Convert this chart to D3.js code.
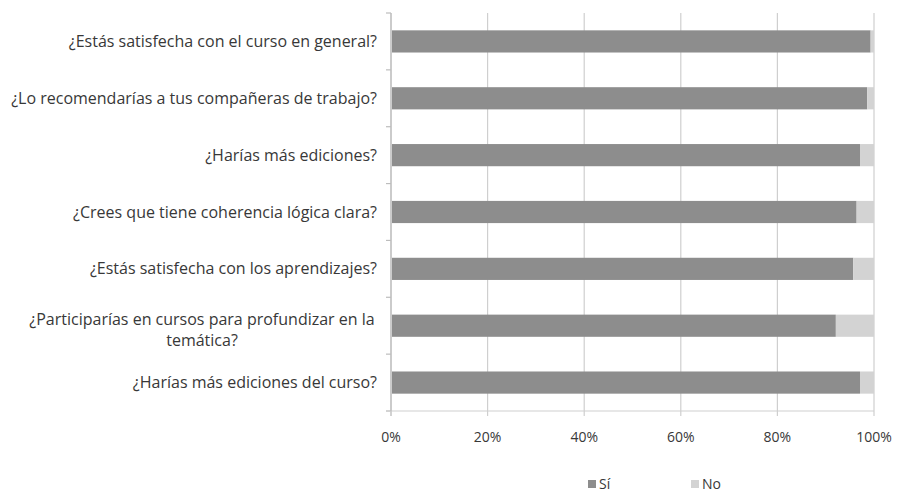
<!DOCTYPE html>
<html>
<head>
<meta charset="utf-8">
<script src="https://d3js.org/d3.v7.min.js"></script>
<style>
body { margin: 0; background: #fff; }
text { font-family: "Open Sans", sans-serif; fill: #383838; }
</style>
</head>
<body>
<script>
// preguntas y porcentajes
var preguntas = [
  "¿Estás satisfecha con el curso en general?",
  "¿Lo recomendarías a tus compañeras de trabajo?",
  "¿Harías más ediciones?",
  "¿Crees que tiene coherencia lógica clara?",
  "¿Estás satisfecha con los aprendizajes?",
  "¿Participarías en cursos para profundizar en la temática?",
  "¿Harías más ediciones del curso?"
];
var si = [99.3, 98.6, 97.1, 96.4, 95.7, 92.1, 97.1];
var no = si.map(function(v) { return 100 - v; });
var ticks = [0, 20, 40, 60, 80, 100];

var svg = d3.select('body').append('svg')
  .attr("width", 897)
  .attr("height", 495);

var x = d3.scaleLinear().domain([0, 100]).range([391, 874]);
var y = d3.scaleBand().domain(preguntas).range([13, 411]).paddingInner(0.61).paddingOuter(0.305);

// lineas de la cuadricula
svg.selectAll('line.grid')
  .data(ticks)
  .enter()
  .append('line')
  .attr('x1', function(d) { return x(d); })
  .attr('x2', function(d) { return x(d); })
  .attr('y1', 13)
  .attr('y2', 411)
  .attr('stroke', '#cfcfcf')
  .attr('stroke-width', 1.2);

// eje y con marcas
var bandEdges = preguntas.map(function(p, i) { return 13 + i * (398 / 7); }).concat([411]);
svg.selectAll('line.ytick')
  .data(bandEdges)
  .enter()
  .append('line')
  .attr('x1', 386)
  .attr('x2', 391)
  .attr('y1', function(d) { return d; })
  .attr('y2', function(d) { return d; })
  .attr('stroke', '#bdbdbd')
  .attr('stroke-width', 1.2);

svg.append('line')
  .attr('x1', 386).attr('x2', 874)
  .attr('y1', 411).attr('y2', 411)
  .attr('stroke', '#cfcfcf').attr('stroke-width', 1.2);

svg.append('line')
  .attr('x1', 391).attr('x2', 391)
  .attr('y1', 13).attr('y2', 416)
  .attr('stroke', '#bdbdbd').attr('stroke-width', 1.2);

svg.selectAll('line.xtick')
  .data(ticks)
  .enter()
  .append('line')
  .attr('x1', function(d) { return x(d); })
  .attr('x2', function(d) { return x(d); })
  .attr('y1', 411).attr('y2', 416)
  .attr('stroke', '#cfcfcf').attr('stroke-width', 1.2);

// barras Si
svg.selectAll('rect.si')
  .data(si)
  .enter()
  .append('rect')
  .attr('x', x(0) + 1)
  .attr('y', function(d, i) { return y(preguntas[i]); })
  .attr('width', function(d) { return x(d) - x(0) - 1; })
  .attr('height', y.bandwidth())
  .attr('fill', '#8d8d8d');

// barras No
svg.selectAll('rect.no')
  .data(no)
  .enter()
  .append('rect')
  .attr('x', function(d, i) { return x(si[i]); })
  .attr('y', function(d, i) { return y(preguntas[i]); })
  .attr('width', function(d, i) { return x(si[i] + d) - x(si[i]); })
  .attr('height', y.bandwidth())
  .attr('fill', '#d3d3d3');

// etiquetas de preguntas
svg.selectAll('text.q')
  .data(preguntas)
  .enter()
  .append('text')
  .attr('text-anchor', 'end')
  .attr('font-size', 16)
  .attr('x', 377)
  .attr('y', function(d) { return y(d) + y.bandwidth() / 2; })
  .each(function(d) {
    var t = d3.select(this);
    if (d.indexOf("profundizar") > 0) {
      t.attr('text-anchor', 'middle');
      t.append('tspan').attr('x', 202).attr('dy', '-0.05em').text("¿Participarías en cursos para profundizar en la");
      t.append('tspan').attr('x', 202).attr('dy', '1.3em').text("temática?");
    } else {
      t.attr('dy', '0.35em').text(d);
    }
  });

// etiquetas eje x
svg.selectAll('text.xt')
  .data(ticks)
  .enter()
  .append('text')
  .attr('text-anchor', 'middle')
  .attr('font-size', 14)
  .attr('x', function(d) { return x(d); })
  .attr('y', 442)
  .text(function(d) { return d + '%'; });

// leyenda
var leyenda = [["Sí", '#8d8d8d', 588], ["No", '#d3d3d3', 691]];
var lg = svg.selectAll('g.lg')
  .data(leyenda)
  .enter()
  .append('g');
lg.append('rect')
  .attr('x', function(d) { return d[2]; })
  .attr('y', 480)
  .attr('width', 8).attr('height', 8)
  .attr('fill', function(d) { return d[1]; });
lg.append('text')
  .attr('x', function(d) { return d[2] + 11; })
  .attr('y', 489)
  .attr('font-size', 14)
  .text(function(d) { return d[0]; });
</script>
</body>
</html>
